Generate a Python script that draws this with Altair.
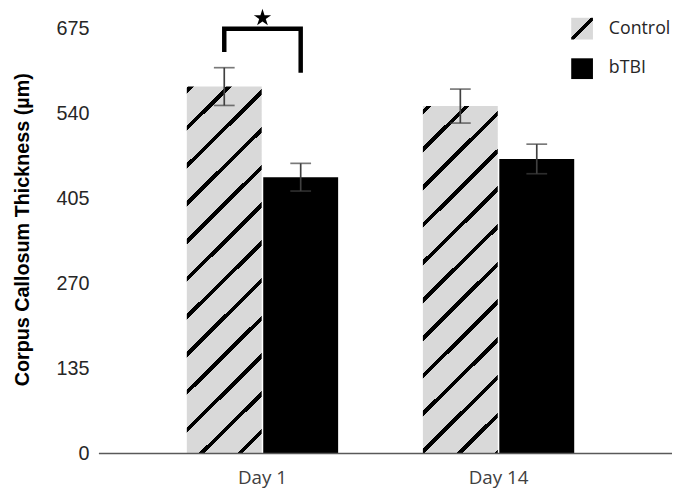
import math
import altair as alt
import pandas as pd

# ---------------- data ----------------
days = ["Day 1", "Day 14"]
groups = ["Control", "bTBI"]
control_mean = [583, 552]
control_err = [30, 27]
btbi_mean = [439, 468]
btbi_err = [22, 23.5]
y_ticks = [0, 135, 270, 405, 540, 675]

# significance bracket between Day 1 bars
bracket_group = ["Control", "Control", "bTBI", "bTBI"]
bracket_y = [638, 675, 675, 605]
star_y = 692

legend_labels = ["Control", "bTBI"]

# ---------------- layout / style ----------------
W_PLOT, H_PLOT, Y_MAX = 580, 430, 675
BAR_W = 75
GRAY = "#d9d9d9"
ERR = "#404040"
STAR_PATH = ("M0,-1L0.2245,-0.309L0.951,-0.309L0.363,0.118L0.588,0.809L0,0.382"
             "L-0.588,0.809L-0.363,0.118L-0.951,-0.309L-0.2245,-0.309Z")
LEG_X = 478

rows = []
for i, d in enumerate(days):
    rows.append({"day": d, "group": "Control", "mean": control_mean[i],
                 "lo": control_mean[i] - control_err[i], "hi": control_mean[i] + control_err[i]})
    rows.append({"day": d, "group": "bTBI", "mean": btbi_mean[i],
                 "lo": btbi_mean[i] - btbi_err[i], "hi": btbi_mean[i] + btbi_err[i]})
df = pd.DataFrame(rows)

bracket_df = pd.DataFrame({"day": ["Day 1"] * 4, "group": bracket_group,
                           "mean": bracket_y, "order": [0, 1, 2, 3]})
star_df = pd.DataFrame({"day": ["Day 1"], "mean": [star_y]})


def hatch_fill(bar_h, bar_w, period, lw, phase, bg="#d9d9d9", fg="#000000"):
    span = (bar_w + bar_h) / math.sqrt(2)
    s = (bar_w + bar_h) / (bar_w ** 2 + bar_h ** 2)
    stops = [{"offset": 0, "color": bg}]
    u = phase
    while u - lw / 2 < span:
        a = max(0.0, (u - lw / 2) / span)
        b = min(1.0, (u + lw / 2) / span)
        if b > 0:
            stops += [{"offset": a, "color": bg}, {"offset": a, "color": fg},
                      {"offset": b, "color": fg}, {"offset": b, "color": bg}]
        u += period
    stops.append({"offset": 1, "color": bg})
    return {"gradient": "linear", "x1": 0, "y1": 0,
            "x2": s * bar_w, "y2": s * bar_h, "stops": stops}


x_scale = alt.Scale(domain=days, range=[2, 568], paddingInner=0.359, paddingOuter=0.364)
off_scale = alt.Scale(domain=groups, paddingInner=0.02, paddingOuter=0)
y_scale = alt.Scale(domain=[0, Y_MAX], nice=False)

x_axis = alt.Axis(title=None, labelAngle=0, domain=False, ticks=False, tickSize=0,
                  labelFont="Open Sans", labelFontSize=19, labelColor="#404040",
                  labelPadding=15, grid=False)
y_axis = alt.Axis(values=y_ticks, title="Corpus Callosum Thickness (µm)",
                  titleFont="Liberation Sans", titleFontSize=20, titleFontWeight="bold",
                  titleColor="#000000", titleAngle=-90, titleX=-71, titleY=203,
                  titleBaseline="alphabetic", titleAlign="center",
                  labelFont="Liberation Sans", labelFontSize=20, labelColor="#262626",
                  labelPadding=10, ticks=False, tickSize=0, domain=False, grid=False)

X = alt.X("day:N", sort=days, scale=x_scale, axis=x_axis, title=None)
XO = alt.XOffset("group:N", sort=groups, scale=off_scale)
Y = alt.Y("mean:Q", scale=y_scale, axis=y_axis, title="Corpus Callosum Thickness (µm)")
YLO = alt.Y("lo:Q", scale=y_scale, axis=y_axis, title="Corpus Callosum Thickness (µm)")
YHI = alt.Y("hi:Q", scale=y_scale, axis=y_axis, title="Corpus Callosum Thickness (µm)")

base = alt.Chart(df)

btbi_bars = base.transform_filter(alt.datum.group == "bTBI").mark_bar(color="#000000").encode(
    x=X, xOffset=XO, y=Y)

phases = [2.8, 4.2]
control_layers = []
for i, d in enumerate(days):
    h = control_mean[i] / Y_MAX * H_PLOT
    fill = hatch_fill(h, BAR_W, 27, 4.0, phases[i], GRAY)
    control_layers.append(
        base.transform_filter((alt.datum.group == "Control") & (alt.datum.day == d))
        .mark_bar(fill=fill, strokeWidth=0)
        .encode(x=X, xOffset=XO, y=Y))

err_rule = base.mark_rule(color=ERR, strokeWidth=1.7).encode(
    x=X, xOffset=XO, y=YLO, y2="hi:Q")
cap_lo = base.mark_tick(color=ERR, thickness=1.7, size=21).encode(x=X, xOffset=XO, y=YLO)
cap_hi = base.mark_tick(color=ERR, thickness=1.7, size=21).encode(x=X, xOffset=XO, y=YHI)

baseline = alt.Chart(pd.DataFrame({"mean": [0]})).mark_rule(
    color="#595959", strokeWidth=1.6).encode(
    y=Y, x=alt.value(0), x2=alt.value(W_PLOT))

bracket = alt.Chart(bracket_df).mark_line(
    color="#000000", strokeWidth=4.5, strokeJoin="miter", strokeCap="butt").encode(
    x=X, xOffset=XO, y=Y, order="order:Q")

star = alt.Chart(star_df).mark_point(
    shape=STAR_PATH, filled=True, fill="#000000", color="#000000",
    opacity=1, size=340, strokeWidth=0).encode(x=X, y=Y)

# ---------------- legend ----------------
leg_ctrl_box = alt.Chart(pd.DataFrame({"label": [legend_labels[0]]})).mark_rect(
    fill=hatch_fill(22, 22, 100, 3.6, 15.6, GRAY)).encode(
    x=alt.value(LEG_X), x2=alt.value(LEG_X + 22), y=alt.value(-11), y2=alt.value(11))
leg_btbi_box = alt.Chart(pd.DataFrame({"label": [legend_labels[1]]})).mark_rect(
    fill="#000000").encode(
    x=alt.value(LEG_X), x2=alt.value(LEG_X + 22), y=alt.value(30), y2=alt.value(51))
leg_ctrl_txt = alt.Chart(pd.DataFrame({"label": [legend_labels[0]]})).mark_text(
    font="Open Sans", fontSize=18, color="#262626", align="left", baseline="middle").encode(
    x=alt.value(LEG_X + 38), y=alt.value(0), text="label:N")
leg_btbi_txt = alt.Chart(pd.DataFrame({"label": [legend_labels[1]]})).mark_text(
    font="Open Sans", fontSize=18, color="#262626", align="left", baseline="middle").encode(
    x=alt.value(LEG_X + 38), y=alt.value(40), text="label:N")

chart = alt.layer(
    btbi_bars, *control_layers, err_rule, cap_lo, cap_hi, baseline, bracket, star,
    leg_ctrl_box, leg_btbi_box, leg_ctrl_txt, leg_btbi_txt
).properties(
    width=W_PLOT, height=H_PLOT,
    padding={"left": 92, "top": 18, "right": 0, "bottom": 34},
    autosize=alt.AutoSizeParams(type="none"),
).configure_view(stroke=None)

chart.save("out.html", embed_options={"renderer": "svg", "actions": False})
